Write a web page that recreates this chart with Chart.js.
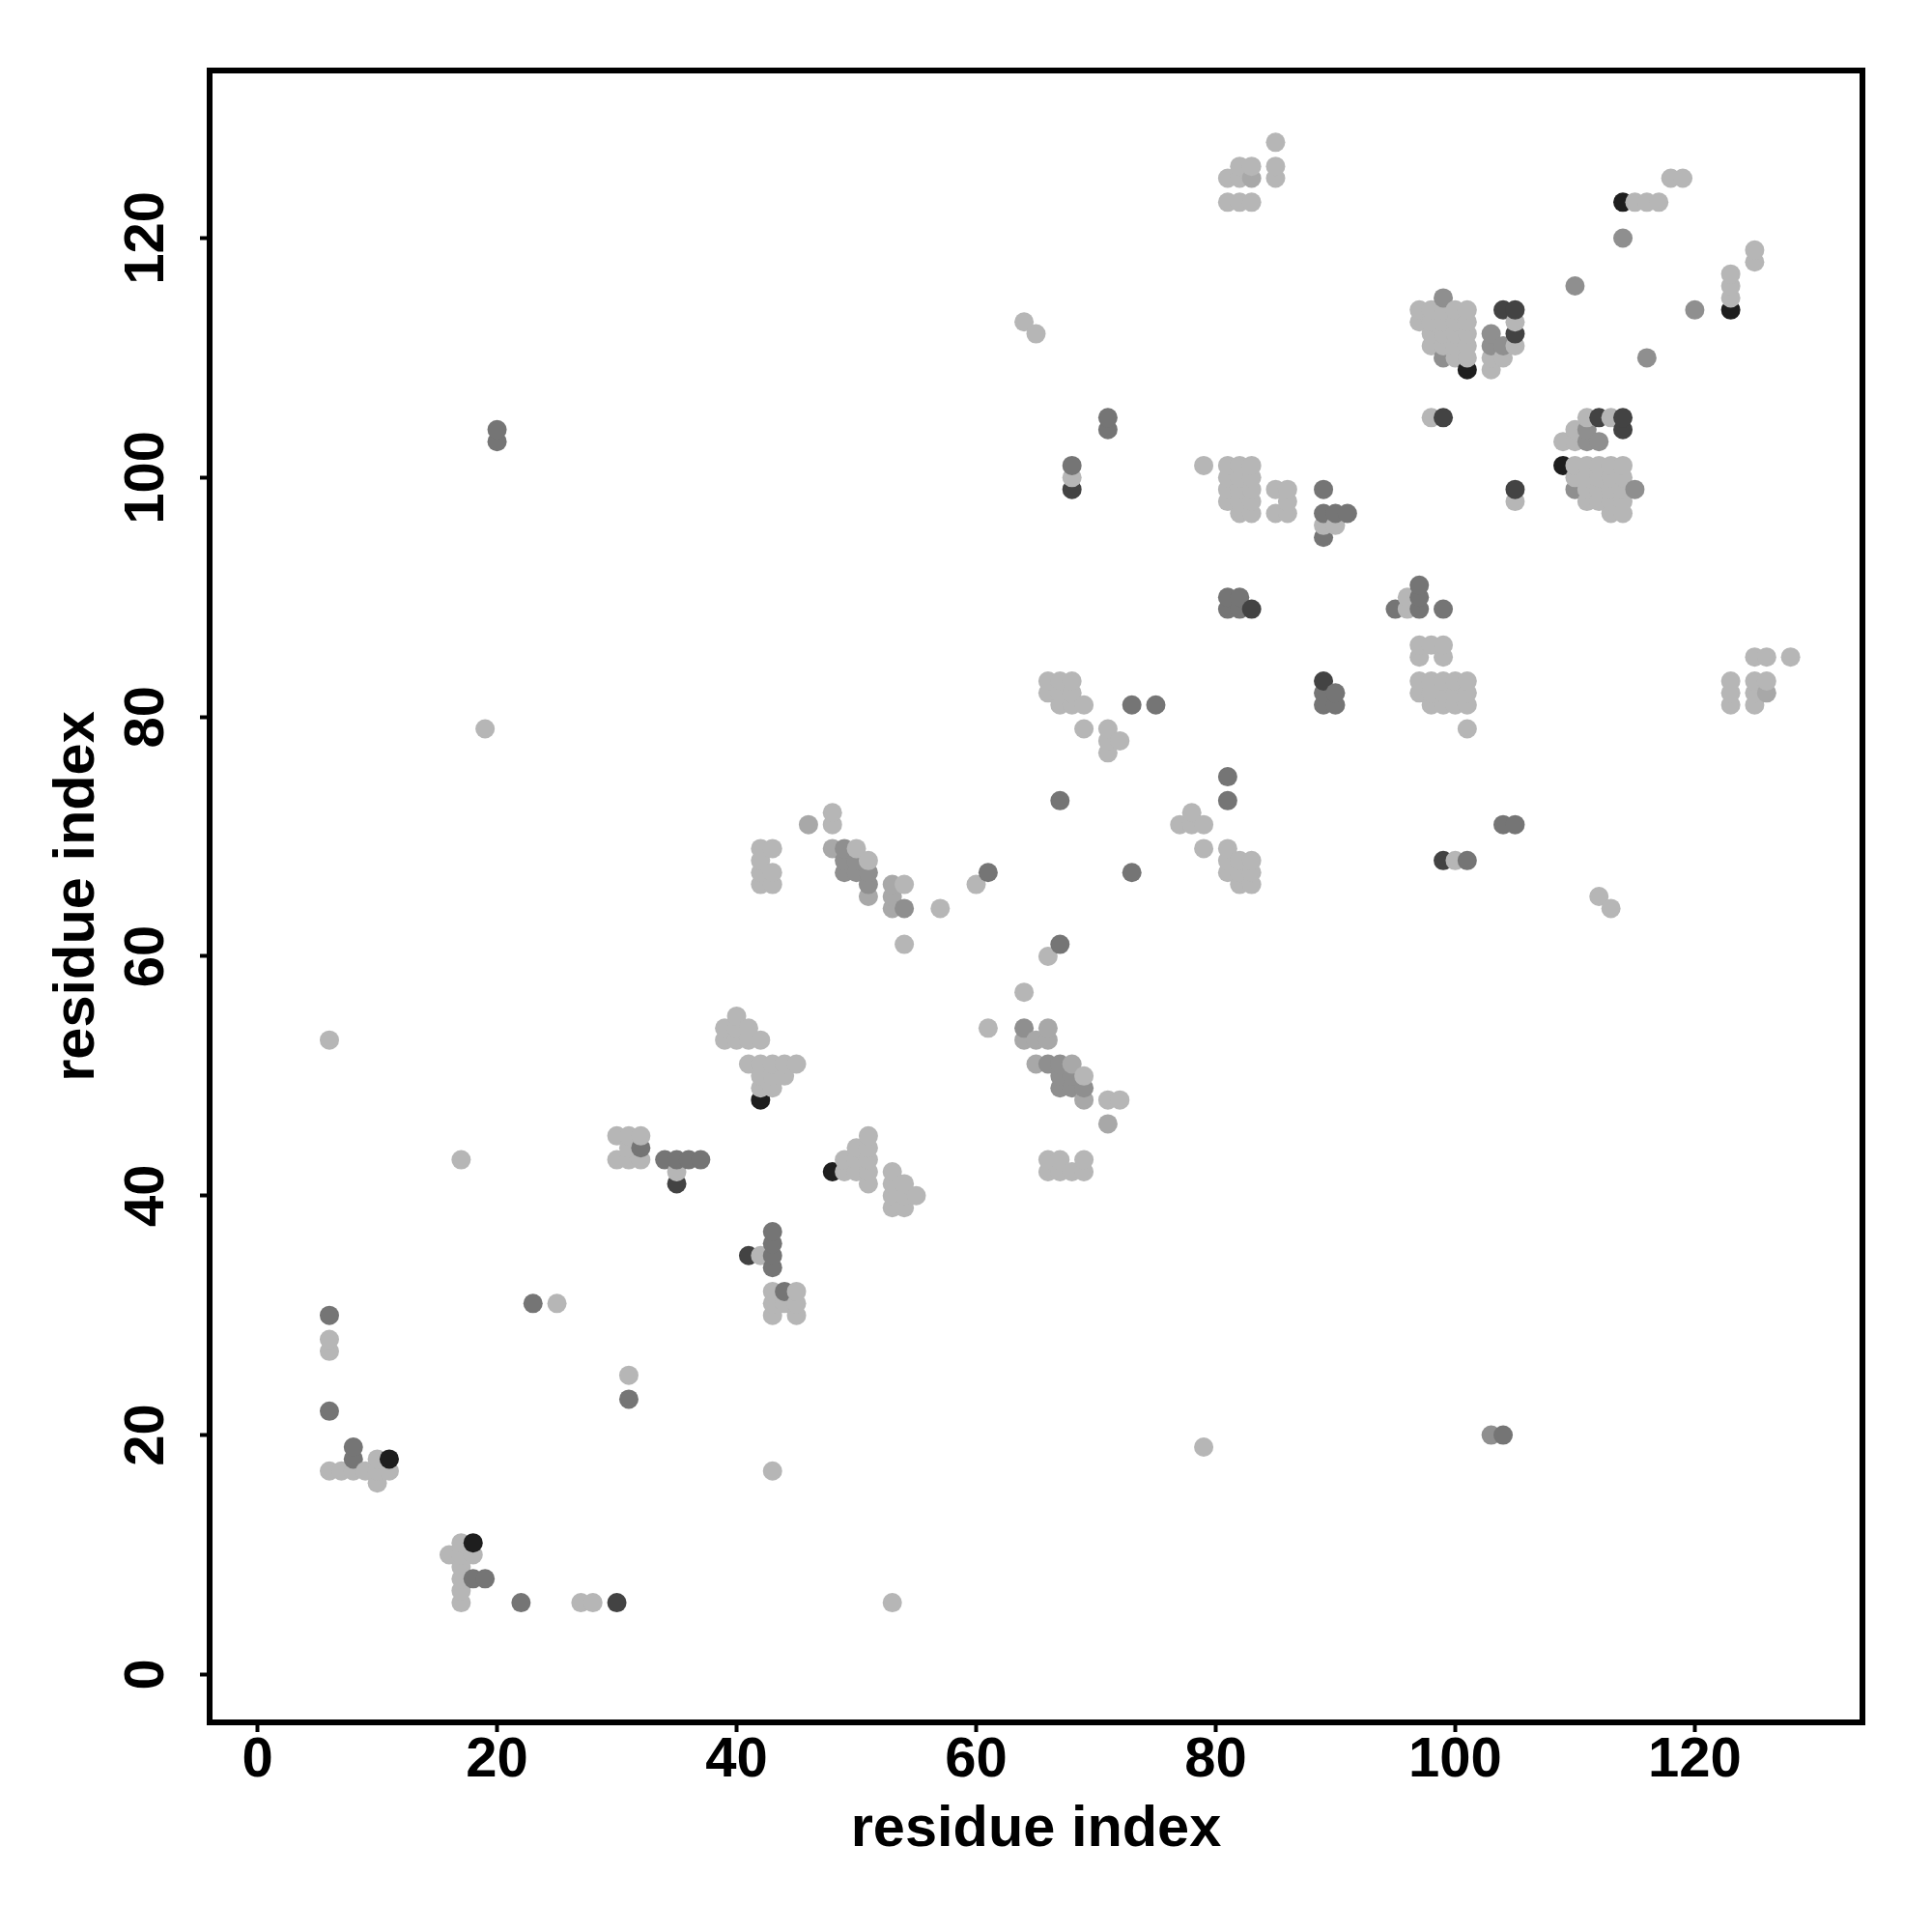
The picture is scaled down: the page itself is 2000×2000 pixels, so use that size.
<!DOCTYPE html>
<html><head><meta charset="utf-8">
<style>html,body{margin:0;padding:0;background:#fff}canvas{display:block}</style>
<script src="https://cdn.jsdelivr.net/npm/chart.js@4"></script></head>
<body><div style="width:2000px;height:2000px"><canvas id="c" width="2000" height="2000"></canvas></div>
<script>
const tickValues = [0, 20, 40, 60, 80, 100, 120];
const axisTitle = "residue index";
const lightContacts = [[6,28],[6,27],[6,17],[7,17],[8,17],[9,17],[10,17],[11,17],[10,18],[10,16],[16,10],[17,11],[17,10],[17,9],[17,8],[17,7],[17,6],[18,10],[27,6],[28,6],[53,6],[17,43],[19,79],[25,31],[31,25],[43,17],[79,19],[6,53],
[30,45],[31,45],[32,45],[31,44],[30,43],[31,43],[32,43],[35,42],[42,35],[43,32],[45,32],[43,31],[44,31],[45,31],[43,30],[45,30],
[40,55],[39,54],[40,54],[41,54],[39,53],[40,53],[41,53],[42,53],[41,51],[42,51],[43,51],[44,51],[45,51],[42,50],[43,50],[44,50],[42,49],[43,49],
[51,45],[50,44],[51,44],[49,43],[50,43],[51,43],[49,42],[50,42],[51,42],[51,41],[53,42],[53,41],[54,41],[53,40],[54,40],[55,40],[53,39],[54,39],
[66,43],[67,43],[69,43],[66,42],[67,42],[68,42],[69,42],[48,72],[48,71],[50,69],[51,68],[54,66],[57,64],[54,61],[60,66],
[42,69],[43,69],[42,68],[42,67],[43,67],[42,66],[43,66],[64,57],[61,54],[66,60],[71,48],[72,48],[69,50],[69,79],[71,79],[71,78],[72,78],[71,77],
[66,83],[67,83],[68,83],[66,82],[67,82],[68,82],[67,81],[68,81],[69,81],[77,71],[78,72],[78,71],[79,71],[79,69],[81,69],[81,68],[82,68],[83,68],[81,67],[82,67],[83,67],[82,66],[83,66],
[79,101],[81,101],[82,101],[83,101],[81,100],[82,100],[83,100],[81,99],[82,99],[83,99],[81,98],[82,98],[83,98],[82,97],[83,97],[85,99],[86,99],[86,98],[85,97],[86,97],[89,96],[90,96],[68,100],
[96,90],[96,89],[97,86],[98,86],[99,86],[97,85],[99,85],[97,83],[98,83],[99,83],[100,83],[101,83],[97,82],[98,82],[99,82],[100,82],[101,82],[98,81],[99,81],[100,81],[101,81],[101,79],
[123,83],[123,82],[123,81],[125,85],[126,85],[128,85],[125,83],[126,83],[125,82],[125,81],[100,68],[112,65],[113,64],[105,98],
[97,114],[98,114],[100,114],[101,114],[99,114],[97,113],[98,113],[99,113],[100,113],[101,113],[98,112],[99,112],[100,112],[101,112],[98,111],[99,111],[100,111],[101,111],[100,110],[101,110],
[105,113],[105,111],[103,110],[104,110],[103,109],[98,105],[64,113],[65,112],[111,105],[113,105],[110,104],[109,103],[110,103],
[110,101],[111,101],[112,101],[113,101],[114,101],[110,100],[111,100],[112,100],[113,100],[114,100],[111,99],[112,99],[113,99],[114,99],[111,98],[112,98],[113,98],[114,98],[113,97],[114,97],
[115,123],[116,123],[117,123],[118,125],[119,125],[123,115],[123,116],[123,117],[125,119],[125,118],[85,128],[85,126],[85,125],[82,126],[83,126],[81,125],[82,125],[81,123],[82,123],[83,123]];
const softContacts = [[46,71],[48,69],[51,65],[53,64],[53,65],[53,66],[64,53],[65,53],[66,53],[66,54],[65,51],[68,51],[69,48],[71,46],[126,82],[83,125]];
const middleContacts = [[49,69],[49,68],[50,68],[49,67],[50,67],[51,67],[51,66],[54,64],[64,54],[66,51],[67,51],[67,50],[68,50],[67,49],[68,49],[69,49],[99,115],[103,112],[103,111],[104,111],[111,104],[111,103],[112,103],[110,99],[115,99],[110,116],[116,110],[99,110],[103,20],[114,120],[120,114]];
const darkContacts = [[6,30],[6,22],[8,19],[8,18],[18,8],[19,8],[22,6],[20,104],[20,103],[23,31],[31,23],[104,20],[32,44],[34,43],[35,43],[36,43],[37,43],[43,37],[43,36],[43,35],[43,34],[44,32],[61,67],[67,61],[67,73],[73,67],[71,105],[71,104],[68,101],[73,81],[75,81],[81,75],[81,73],[81,90],[82,90],[81,89],[82,89],[89,99],[89,97],[90,97],[91,97],[89,95],[89,82],[90,82],[89,81],[90,81],[95,89],[97,91],[97,90],[97,89],[99,89],[101,68],[104,71],[105,71]];
const deepContacts = [[30,6],[35,41],[41,35],[68,99],[83,89],[89,83],[99,68],[99,105],[105,99],[104,114],[105,114],[105,112],[112,105],[114,105],[114,104]];
const blackContacts = [[11,18],[18,11],[42,48],[48,42],[101,109],[109,101],[114,123],[123,114]];

const shadeGroups = [[lightContacts,"#b6b6b6"],[softContacts,"#a8a8a8"],[middleContacts,"#8f8f8f"],[darkContacts,"#757575"],[deepContacts,"#434343"],[blackContacts,"#1e1e1e"]];
const pts = [];
shadeGroups.forEach(([list,col]) => list.forEach(([x,y]) => pts.push({x,y,col})));
pts.sort((a,b) => a.x-b.x || a.y-b.y);

const frame = {id:"frame", afterDraw(ch){const a=ch.chartArea,g=ch.ctx;g.save();g.strokeStyle="#000";g.lineWidth=6;g.strokeRect(a.left,a.top,a.right-a.left,a.bottom-a.top);g.restore();}};
const tickFont = {family:"'Liberation Sans'",size:58,weight:"bold"};
const titleFont = {family:"'Liberation Sans'",size:59.5,weight:"bold"};
const common = {min:-4,max:134,afterBuildTicks(s){s.ticks=tickValues.map(v=>({value:v}));},
  grid:{drawOnChartArea:false,drawTicks:true,tickLength:10,tickWidth:4,tickColor:"#000"},border:{display:false},
  title:{display:true,text:axisTitle,color:"#000",font:titleFont}};
new Chart(document.getElementById("c"),{type:"scatter",plugins:[frame],
 data:{datasets:[{data:pts.map(p=>({x:p.x,y:p.y})),pointBackgroundColor:pts.map(p=>p.col),pointBorderWidth:0,pointRadius:10,pointHoverRadius:10}]},
 options:{responsive:false,animation:false,devicePixelRatio:1,layout:{padding:{left:0,top:73,right:72,bottom:0}},
  plugins:{legend:{display:false},tooltip:{enabled:false}},
  scales:{
   x:{...common,afterFit(s){s.height=217;},ticks:{color:"#000",font:tickFont,padding:-5,maxRotation:0,autoSkip:false},title:{...common.title,padding:{top:0,bottom:70}}},
   y:{...common,afterFit(s){s.width=217;},ticks:{color:"#000",font:tickFont,padding:6,minRotation:90,maxRotation:90,crossAlign:"center",autoSkip:false},title:{...common.title,padding:{top:45,bottom:0}}}
  }}});
</script></body></html>
